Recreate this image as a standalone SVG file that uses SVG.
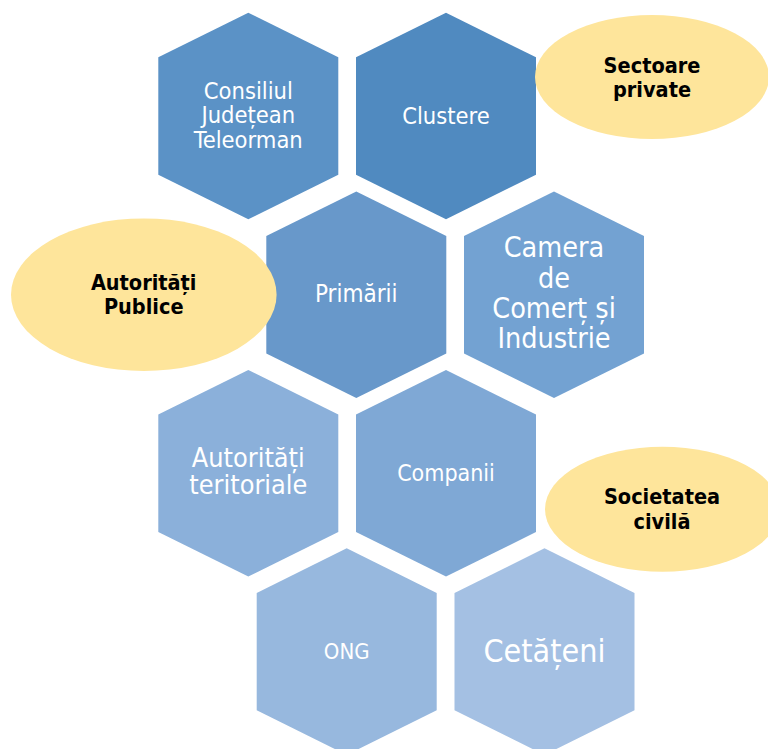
<svg xmlns="http://www.w3.org/2000/svg" width="768" height="749" viewBox="0 0 768 749">
<style>
.ht{font-family:"DejaVu Sans Condensed","DejaVu Sans",sans-serif;font-stretch:condensed;fill:#ffffff;text-anchor:middle}
.et{font-family:"DejaVu Sans Condensed","DejaVu Sans",sans-serif;font-stretch:condensed;font-weight:bold;fill:#000000;text-anchor:middle;font-size:21.5px}
.el{fill:#fee59b}
</style>
<defs>
<path id="hex" d="M0,-103.3 L90,-58.7 L90,58.7 L0,103.3 L-90,58.7 L-90,-58.7 Z"/>
</defs>
<rect width="768" height="749" fill="#ffffff"/>
<g id="connectors"></g>
<g id="n-consiliul">
<use href="#hex" x="248.3" y="116" fill="#5b92c6"/>
<text class="ht" x="248.3" font-size="23.5"><tspan x="248.3" y="99.3">Consiliul</tspan><tspan x="248.3" y="123.3">Județean</tspan><tspan x="248.3" y="147.7">Teleorman</tspan></text>
</g>
<g id="n-clustere">
<use href="#hex" x="446" y="116" fill="#508ac0"/>
<text class="ht" x="446" y="124" font-size="23.5">Clustere</text>
</g>
<g id="n-primarii">
<use href="#hex" x="356.3" y="294.7" fill="#6898ca"/>
<text class="ht" x="356.3" y="301.7" font-size="24">Primării</text>
</g>
<g id="n-camera">
<use href="#hex" x="554" y="294.7" fill="#73a2d2"/>
<text class="ht" x="554" font-size="28.5"><tspan x="554" y="257.3">Camera</tspan><tspan x="554" y="288.3">de</tspan><tspan x="554" y="318.3">Comerț și</tspan><tspan x="554" y="348.3">Industrie</tspan></text>
</g>
<g id="n-autoritati-teritoriale">
<use href="#hex" x="248.3" y="473.3" fill="#8bb0da"/>
<text class="ht" x="248.3" font-size="26.8"><tspan x="248.3" y="467.3">Autorități</tspan><tspan x="248.3" y="494.3">teritoriale</tspan></text>
</g>
<g id="n-companii">
<use href="#hex" x="446" y="473.3" fill="#7fa8d5"/>
<text class="ht" x="446" y="480.7" font-size="23">Companii</text>
</g>
<g id="n-ong">
<use href="#hex" x="346.7" y="651.6" fill="#97b8de"/>
<text class="ht" x="346.7" y="659" font-size="22">ONG</text>
</g>
<g id="n-cetateni">
<use href="#hex" x="544.5" y="651.6" fill="#a4c0e3"/>
<text class="ht" x="544.5" y="661.7" font-size="32">Cetățeni</text>
</g>
<g id="n-sectoare-private">
<ellipse class="el" cx="652" cy="77" rx="117" ry="62"/>
<text class="et"><tspan x="652" y="73.3">Sectoare</tspan><tspan x="652" y="97.3">private</tspan></text>
</g>
<g id="n-autoritati-publice">
<ellipse class="el" cx="143.8" cy="294.7" rx="132.8" ry="76.3"/>
<text class="et"><tspan x="143.7" y="290">Autorități</tspan><tspan x="143.7" y="314.3">Publice</tspan></text>
</g>
<g id="n-societatea-civila">
<ellipse class="el" cx="662.5" cy="509.2" rx="117.5" ry="62.5"/>
<text class="et"><tspan x="662" y="504">Societatea</tspan><tspan x="662" y="529">civilă</tspan></text>
</g>
</svg>
